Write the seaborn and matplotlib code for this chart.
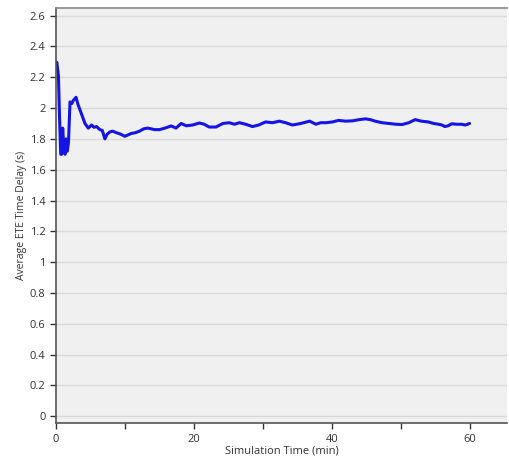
import matplotlib
matplotlib.use("Agg")
import matplotlib.pyplot as plt
import seaborn as sns
import pandas as pd
from matplotlib.ticker import MultipleLocator

# Simulation time (min) and average ETE time delay (s)
sim_time = [0.0, 0.1, 0.34, 0.48, 0.6, 0.67, 0.8, 0.96, 1.05, 1.15, 1.3, 1.44, 1.55, 1.63, 1.8,
            2.02, 2.3, 2.5, 2.89, 3.2, 3.7, 4.19, 4.67, 5.15, 5.5, 5.87, 6.35, 6.7, 7.08,
            7.4, 7.8, 8.2, 8.76, 9.4, 9.96, 10.4, 10.9, 11.5, 12.1, 12.7, 13.3, 13.8, 14.3,
            15.0, 15.8, 16.7, 17.4, 18.15, 18.9, 19.8, 20.8, 21.5, 22.2, 23.2, 24.2, 25.1,
            25.9, 26.6, 27.5, 28.5, 29.4, 30.4, 31.4, 32.4, 33.3, 34.3, 35.5, 36.8, 37.7,
            38.4, 39.2, 40.1, 41.0, 42.0, 43.0, 44.0, 44.9, 45.6, 46.3, 47.3, 48.3, 49.3,
            50.2, 51.2, 52.1, 53.0, 54.0, 54.8, 55.5, 56.0, 56.4, 56.9, 57.4, 58.1, 58.8,
            59.4, 60.0]
avg_delay = [2.28, 2.297, 2.21, 1.97, 1.80, 1.70, 1.70, 1.87, 1.80, 1.72, 1.70, 1.80, 1.74, 1.72, 1.78,
             2.04, 2.03, 2.05, 2.07, 2.02, 1.96, 1.90, 1.87, 1.89, 1.875, 1.88, 1.86, 1.855, 1.80,
             1.83, 1.845, 1.85, 1.84, 1.83, 1.817, 1.825, 1.835, 1.84, 1.85, 1.865, 1.87, 1.865, 1.86,
             1.86, 1.87, 1.884, 1.87, 1.90, 1.885, 1.89, 1.903, 1.895, 1.877, 1.877, 1.90, 1.905,
             1.895, 1.905, 1.895, 1.88, 1.89, 1.91, 1.905, 1.915, 1.905, 1.89, 1.90, 1.915, 1.895,
             1.905, 1.905, 1.91, 1.92, 1.915, 1.917, 1.925, 1.93, 1.925, 1.915, 1.905, 1.90, 1.895,
             1.893, 1.905, 1.925, 1.915, 1.91, 1.90, 1.895, 1.89, 1.88, 1.885, 1.898, 1.895, 1.895,
             1.89, 1.90]

df = pd.DataFrame({"Simulation Time (min)": sim_time,
                   "Average ETE Time Delay (s)": avg_delay})

sns.set_theme(style="ticks")
plt.rcParams['font.family'] = ['Open Sans', 'DejaVu Sans']

fig = plt.figure(figsize=(5.10, 4.66), dpi=100)
ax = fig.add_axes([0.110, 0.092, 0.885, 0.891])
ax.set_facecolor("#f0f0f0")

sns.lineplot(data=df, x="Simulation Time (min)", y="Average ETE Time Delay (s)",
             ax=ax, color="#1414e6", linewidth=2.2, estimator=None, sort=False)

ax.set_xlim(0, 65.5)
ax.set_ylim(-0.045, 2.65)
ax.xaxis.set_major_locator(MultipleLocator(20))
ax.xaxis.set_minor_locator(MultipleLocator(10))
y_ticks = [round(0.2 * i, 1) for i in range(14)]
ax.set_yticks(y_ticks)
ax.set_yticklabels([f"{v:g}" for v in y_ticks])
ax.grid(axis="y", color="#dadada", linewidth=1.0)
ax.set_axisbelow(True)

for side in ["left", "bottom"]:
    ax.spines[side].set_color("#555555")
    ax.spines[side].set_linewidth(1.2)
ax.spines["top"].set_color("#888888")
ax.spines["top"].set_linewidth(1.2)
ax.spines["right"].set_visible(False)

ax.tick_params(axis="both", which="major", labelsize=8, colors="#333333", length=4, width=1)
ax.tick_params(axis="x", which="minor", length=4, width=1, colors="#333333")
ax.set_xlabel("Simulation Time (min)", fontsize=8, color="#333333", labelpad=1)
ax.set_ylabel("Average ETE Time Delay (s)", fontsize=7.5, color="#333333", labelpad=2)

fig.savefig("out.png", dpi=100)
